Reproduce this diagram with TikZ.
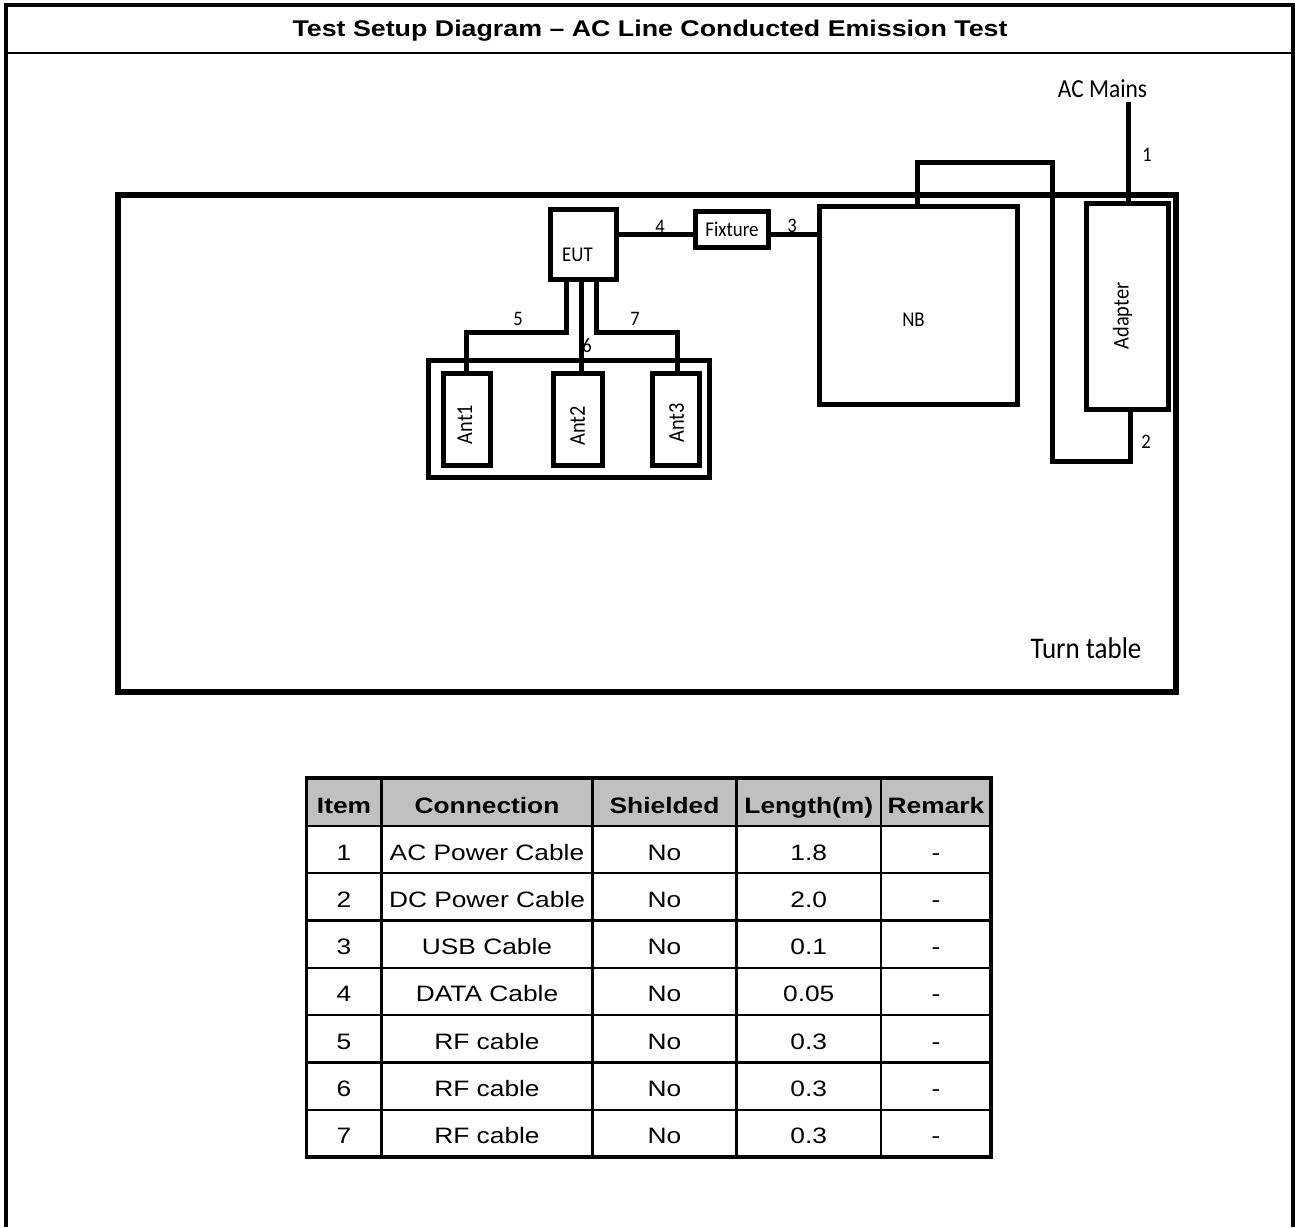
\documentclass[tikz,border=0pt]{standalone}
\usepackage{fontspec}
\setmainfont{Liberation Sans}
\newfontfamily\tabfont[FakeStretch=1.18]{Liberation Sans}
\newfontfamily\lblfont[FakeStretch=0.9]{Carlito}
\usepackage{xcolor}
\usepackage{tikz}
\usetikzlibrary{positioning}
\definecolor{headgray}{RGB}{192,192,192}

\begin{document}
\begin{tikzpicture}[x=0.5pt,y=-0.5pt, line join=miter,
    box/.style={draw, line width=2.5pt, inner sep=0pt},
    cable/.style={line width=2.5pt},
    lbl/.style={font=\lblfont\fontsize{10.5pt}{12pt}\selectfont, inner sep=0pt},
    antlbl/.style={font=\lblfont\fontsize{11.3pt}{13pt}\selectfont, inner sep=0pt, rotate=90},
    num/.style={font=\lblfont\fontsize{10.3pt}{12pt}\selectfont, inner sep=0pt},
    cell/.style={font=\tabfont\fontsize{11.15pt}{13pt}\selectfont, inner sep=0pt, anchor=base},
    head/.style={font=\tabfont\bfseries\fontsize{11.15pt}{13pt}\selectfont, inner sep=0pt, anchor=base}]
    \useasboundingbox (0,0) rectangle (1295,1227);
    % frame
    \draw[line width=2pt] (6,1227) -- (6,5) -- (1293,5) -- (1293,1227);
    \draw[line width=1.35pt] (6,53) -- (1293,53);
    \node[font=\tabfont\bfseries\fontsize{11.35pt}{13pt}\selectfont, inner sep=0pt, anchor=base] (title) at (650,36)
        {Test Setup Diagram – AC Line Conducted Emission Test};
    % turn table
    \draw[line width=3pt] (118,195) rectangle (1175.5,692);
    \node[font=\lblfont\fontsize{15pt}{17pt}\selectfont, inner sep=0pt] (turntable) at (1086,648) {Turn table};
    % boxes
    \node[box, minimum width=33pt, minimum height=35pt] (eut) at (583.5,244.5) {};
    \node[box, minimum width=36.5pt, minimum height=18pt] (fixture) at (732,229.5) {};
    \node[box, minimum width=99pt, minimum height=99pt] (nb) at (918.5,305.5) {};
    \node[box, minimum width=41pt, minimum height=103pt] (adapter) at (1127.5,306.5) {};
    \node[box, minimum width=140.5pt, minimum height=58.5pt] (antbox) at (569,419) {};
    \node[box, minimum width=23.5pt, minimum height=46pt] (ant1) at (467,419.5) {};
    \node[box, minimum width=24.5pt, minimum height=46pt] (ant2) at (578,419.5) {};
    \node[box, minimum width=23.5pt, minimum height=46pt] (ant3) at (676,419.5) {};
    % box labels
    \node[lbl] (eutlbl) at (577.5,255) {EUT};
    \node[lbl] (fixlbl) at (732,229.5) {Fixture};
    \node[lbl] (nblbl) at (913.5,320) {NB};
    \node[antlbl] (adlbl) at (1122.5,316) {Adapter};
    \node[antlbl] (ant1lbl) at (465,424.5) {Ant1};
    \node[antlbl] (ant2lbl) at (577.5,426) {Ant2};
    \node[antlbl] (ant3lbl) at (676.5,423) {Ant3};
    \node[font=\lblfont\fontsize{13pt}{15pt}\selectfont, inner sep=0pt] (mains) at (1102.5,89) {AC Mains};
    % cables
    \coordinate (lvl) at (650,234.7);
    \draw[cable] (eut.east |- lvl) -- (fixture.west |- lvl);
    \draw[cable] (fixture.east |- lvl) -- (nb.west |- lvl);
    \coordinate (c1) at (1128,102);
    \draw[cable] (c1) -- (c1 |- adapter.north);
    \coordinate (c2a) at (917.5,162.5);
    \coordinate (c2b) at (1052,461.5);
    \coordinate (c2c) at (1130,461.5);
    \draw[cable] (nb.north -| c2a) -- (c2a) -| (c2b) -- (c2c) -- (c2c |- adapter.south);
    \coordinate (c5a) at (566.5,332.5);
    \coordinate (c5b) at (466,332.5);
    \draw[cable] (eut.south -| c5a) -- (c5a) -- (c5b) -- (c5b |- ant1.north);
    \coordinate (c6) at (581,332.5);
    \draw[cable] (eut.south -| c6) -- (c6 |- ant2.north);
    \coordinate (c7a) at (596,332.5);
    \coordinate (c7b) at (677,332.5);
    \draw[cable] (eut.south -| c7a) -- (c7a) -- (c7b) -- (c7b |- ant3.north);
    % cable numbers
    \node[num] (n1) at (1147,155) {1};
    \node[num] (n2) at (1146,442) {2};
    \node[num] (n3) at (792,226) {3};
    \node[num] (n4) at (660,226.5) {4};
    \node[num] (n5) at (518,319) {5};
    \node[num] (n6) at (587,346) {6};
    \node[num] (n7) at (635,319) {7};
    % table
    \fill[headgray] (306.5,778) rectangle (991,826);
    \foreach \k in {0,...,6} {
        \draw[line width=1.15pt] (306.5,{826+47.3*\k}) -- (991,{826+47.3*\k});
    }
    \foreach \x in {381.5,592.5,736.5,881} {
        \draw[line width=1.15pt] (\x,778) -- (\x,1157.1);
    }
    \draw[line width=1.75pt] (306.5,778) rectangle (991,1157.1);
    \foreach \x/\h [count=\c] in {344/Item,487/Connection,664.5/Shielded,808.75/Length(m),936/Remark} {
        \node[head] (head\c) at (\x,813) {\h};
    }
    \foreach \i/\conn/\len in {1/AC Power Cable/1.8,2/DC Power Cable/2.0,3/USB Cable/0.1,
        4/DATA Cable/0.05,5/RF cable/0.3,6/RF cable/0.3,7/RF cable/0.3} {
        \node[cell] (item\i) at (344,{860+47.3*(\i-1)}) {\i};
        \node[cell] (conn\i) at (487,{860+47.3*(\i-1)}) {\conn};
        \node[cell] (shield\i) at (664.5,{860+47.3*(\i-1)}) {No};
        \node[cell] (len\i) at (808.75,{860+47.3*(\i-1)}) {\len};
        \node[cell] (rem\i) at (936,{860+47.3*(\i-1)}) {-};
    }
\end{tikzpicture}
\end{document}
